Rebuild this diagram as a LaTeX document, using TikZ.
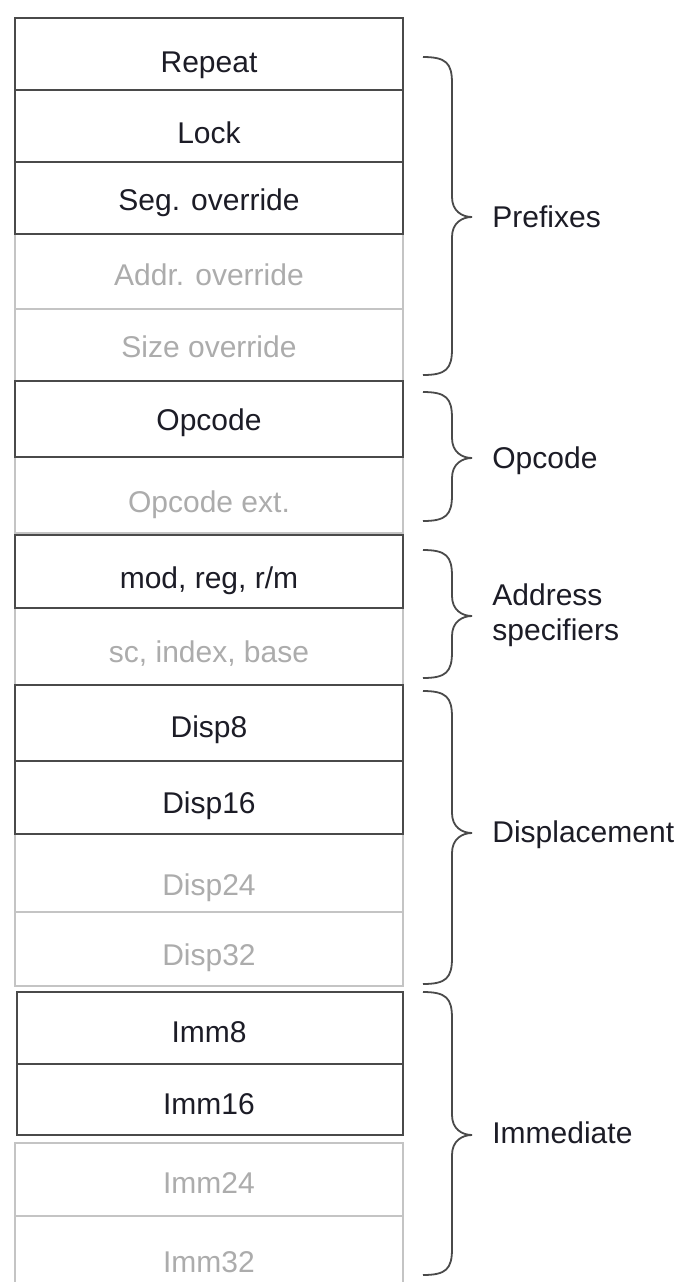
\documentclass[tikz,border=0pt]{standalone}
\usepackage{fontspec}
\setmainfont{Liberation Sans}
\definecolor{lineblack}{HTML}{4A4A4A}
\definecolor{textblack}{HTML}{1C1C26}
\definecolor{linegray}{HTML}{C4C4C4}
\definecolor{textgray}{HTML}{ACACAC}
\newcommand{\curlybrace}[3]{%
  \draw[bracestyle] (423,#1) .. controls (446,#1) and (452,#1+6) .. (452,#1+26)
    -- (452,#2-20) .. controls (452,#2-6) and (462,#2) .. (472,#2)
    .. controls (462,#2) and (452,#2+6) .. (452,#2+20)
    -- (452,#3-26) .. controls (452,#3-6) and (446,#3) .. (423,#3);}
\begin{document}
\begin{tikzpicture}[x=0.5pt,y=-0.5pt,
  solidrow/.style={draw=lineblack, line width=1.1pt},
  ghostrow/.style={draw=linegray, line width=0.9pt},
  solidtext/.style={anchor=base, text=textblack, inner sep=0pt, font=\fontsize{15}{18}\selectfont},
  ghosttext/.style={solidtext, text=textgray},
  bracestyle/.style={draw=lineblack, line width=0.9pt},
  grouplabel/.style={anchor=base west, text=textblack, inner sep=0pt, font=\fontsize{15}{18}\selectfont, align=left}]
\useasboundingbox (0,0) rectangle (678,1282);
\fill[white] (0,0) rectangle (678,1282);
% ghost rows
\draw[ghostrow] (15,234) rectangle (403,309);
\draw[ghostrow] (15,309) rectangle (403,381);
\draw[ghostrow] (15,457) rectangle (403,533);
\draw[ghostrow] (15,608) rectangle (403,685);
\draw[ghostrow] (15,834) rectangle (403,912);
\draw[ghostrow] (15,912) rectangle (403,986);
\draw[ghostrow] (15,1143) rectangle (403,1216);
\draw[ghostrow] (15,1282) -- (15,1216) -- (403,1216) -- (403,1282);
% solid rows
\draw[solidrow] (15,18) rectangle (403,90);
\draw[solidrow] (15,90) rectangle (403,162);
\draw[solidrow] (15,162) rectangle (403,234);
\draw[solidrow] (15,381) rectangle (403,457);
\draw[solidrow] (15,535) rectangle (403,608);
\draw[solidrow] (15,685) rectangle (403,761);
\draw[solidrow] (15,761) rectangle (403,834);
\draw[solidrow] (17,992) rectangle (403,1064);
\draw[solidrow] (17,1064) rectangle (403,1135);
% texts
\node[solidtext] (repeat) at (209,72) {Repeat};
\node[solidtext] (lock) at (209,143) {Lock};
\node[solidtext] (seg) at (209,210) {Seg. override};
\node[ghosttext] (addr) at (209,285) {Addr. override};
\node[ghosttext] (size) at (209,357) {Size override};
\node[solidtext] (opc) at (209,430) {Opcode};
\node[ghosttext] (opcext) at (209,512) {Opcode ext.};
\node[solidtext] (modrm) at (209,588) {mod, reg, r/m};
\node[ghosttext] (sib) at (209,662) {sc, index, base};
\node[solidtext] (d8) at (209,737) {Disp8};
\node[solidtext] (d16) at (209,813) {Disp16};
\node[ghosttext] (d24) at (209,895) {Disp24};
\node[ghosttext] (d32) at (209,965) {Disp32};
\node[solidtext] (i8) at (209,1042) {Imm8};
\node[solidtext] (i16) at (209,1114) {Imm16};
\node[ghosttext] (i24) at (209,1193) {Imm24};
\node[ghosttext] (i32) at (209,1272) {Imm32};
% braces
\curlybrace{57}{217}{375}
\curlybrace{392}{458}{521}
\curlybrace{550}{616}{678}
\curlybrace{691}{833}{984}
\curlybrace{992}{1135}{1275}
% group labels
\node[grouplabel] (lprefix) at (492,227) {Prefixes};
\node[grouplabel] (lopcode) at (492,468) {Opcode};
\node[grouplabel] (laddr1) at (492,605) {Address};
\node[grouplabel] (laddr2) at (492,640) {specifiers};
\node[grouplabel] (ldisp) at (492,842) {Displacement};
\node[grouplabel] (limm) at (492,1143) {Immediate};
\end{tikzpicture}
\end{document}
